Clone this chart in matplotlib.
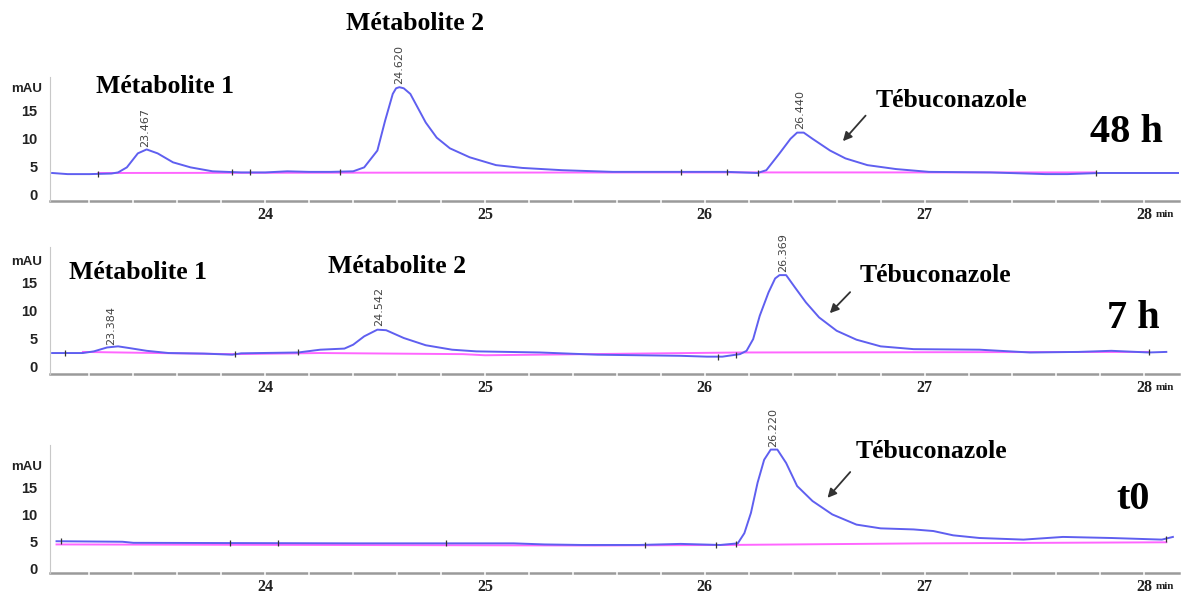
import numpy as np
import matplotlib
matplotlib.use('Agg')
import matplotlib.pyplot as plt

# retention time (min) and absorbance (mAU)
t_48h = [23.03, 23.1, 23.2, 23.3, 23.33, 23.37, 23.42, 23.46, 23.51, 23.58, 23.66, 23.76,
         23.89, 24.0, 24.1, 24.2, 24.3, 24.4, 24.45, 24.51, 24.545, 24.58, 24.595, 24.61,
         24.63, 24.66, 24.73, 24.78, 24.84, 24.93, 25.05, 25.17, 25.35, 25.58, 25.9, 26.1,
         26.24, 26.28, 26.34, 26.39, 26.42, 26.45, 26.49, 26.57, 26.64, 26.74, 26.87, 27.02,
         27.3, 27.55, 27.65, 27.8, 28.0, 28.16]
y_48h = [3.9, 3.7, 3.7, 3.8, 4.0, 4.9, 7.4, 8.1, 7.4, 5.8, 4.9, 4.2,
         4.0, 4.0, 4.2, 4.1, 4.1, 4.2, 4.9, 7.9, 13.2, 18.0, 19.0, 19.2,
         19.0, 18.0, 12.9, 10.2, 8.3, 6.7, 5.3, 4.8, 4.4, 4.1, 4.1, 4.1,
         3.9, 4.4, 7.4, 10.0, 11.1, 11.1, 10.0, 7.9, 6.5, 5.3, 4.6, 4.1,
         4.0, 3.7, 3.7, 3.9, 3.9, 3.9]

t_7h = [23.03, 23.17, 23.22, 23.28, 23.33, 23.38, 23.46, 23.56, 23.72, 23.85, 23.89, 24.15,
        24.25, 24.36, 24.40, 24.45, 24.51, 24.55, 24.63, 24.73, 24.85, 24.96, 25.25, 25.51,
        25.89, 26.01, 26.08, 26.16, 26.19, 26.22, 26.25, 26.29, 26.32, 26.34, 26.37, 26.41,
        26.46, 26.52, 26.60, 26.69, 26.80, 26.95, 27.25, 27.48, 27.70, 27.85, 28.02, 28.10]
y_7h = [2.4, 2.4, 2.7, 3.4, 3.6, 3.3, 2.8, 2.4, 2.3, 2.1, 2.35, 2.5,
        3.0, 3.2, 3.9, 5.4, 6.6, 6.5, 5.1, 3.8, 3.0, 2.7, 2.5, 2.1,
        1.9, 1.75, 1.75, 2.2, 2.8, 4.9, 9.1, 13.3, 15.8, 16.4, 16.4, 14.2,
        11.5, 8.8, 6.4, 4.8, 3.6, 3.1, 3.0, 2.5, 2.6, 2.8, 2.5, 2.6]

t_t0 = [23.05, 23.35, 23.4, 24.41, 25.13, 25.27, 25.44, 25.7, 25.89, 26.07, 26.15, 26.18,
        26.21, 26.24, 26.27, 26.30, 26.33, 26.37, 26.42, 26.49, 26.58, 26.69, 26.80, 26.95,
        27.04, 27.13, 27.25, 27.45, 27.63, 27.85, 28.08, 28.13]
y_t0 = [5.0, 4.9, 4.7, 4.6, 4.6, 4.4, 4.3, 4.3, 4.5, 4.3, 4.6, 6.5,
        10.3, 15.9, 20.2, 22.1, 22.1, 19.6, 15.3, 12.5, 10.0, 8.1, 7.4, 7.2,
        6.9, 6.1, 5.6, 5.3, 5.8, 5.6, 5.3, 5.8]

# integration baselines (magenta)
bt_48h = [23.24, 24.34, 25.9, 27.78]
by_48h = [3.9, 3.95, 4.0, 4.0]
bt_7h = [23.17, 23.85, 24.25, 24.9, 25.0, 26.16, 28.02]
by_7h = [2.6, 2.2, 2.4, 2.2, 2.0, 2.5, 2.6]
bt_t0 = [23.05, 25.5, 26.1, 27.0, 28.1]
by_t0 = [4.4, 4.2, 4.3, 4.6, 4.8]

# integration event ticks
ev_48h = [23.24, 23.85, 23.93, 24.34, 25.89, 26.1, 26.24, 27.78]
ev_7h = [23.09, 23.86, 24.15, 26.06, 26.14, 28.02]
ev_t0 = [23.07, 23.84, 24.06, 24.82, 25.73, 26.05, 26.14, 28.1]

# peak retention time labels: (label, position, height)
pk_48h = [('23.467', 23.455, 8.6), ('24.620', 24.61, 19.8), ('26.440', 26.435, 11.7)]
pk_7h = [('23.384', 23.30, 3.9), ('24.542', 24.52, 7.2), ('26.369', 26.355, 17.0)]
pk_t0 = [('26.220', 26.31, 22.6)]

x_ticks = [24, 25, 26, 27, 28]
y_ticks = [0, 5, 10, 15]

blue = '#5f5ff0'
pink = '#ff66ff'
serif = 'Liberation Serif'

fig = plt.figure(figsize=(11.89, 5.93), dpi=100)
boxes = [[0.042, 0.661, 0.95, 0.209],
         [0.042, 0.369, 0.95, 0.214],
         [0.042, 0.034, 0.95, 0.216]]
ylims = [(-1.1, 21), (-1.4, 21.4), (-0.9, 23)]
panels = [(t_48h, y_48h, bt_48h, by_48h, ev_48h, pk_48h),
          (t_7h, y_7h, bt_7h, by_7h, ev_7h, pk_7h),
          (t_t0, y_t0, bt_t0, by_t0, ev_t0, pk_t0)]

axes = []
for box, yl, (t, y, bt, by, ev, pk) in zip(boxes, ylims, panels):
    ax = fig.add_axes(box)
    ax.plot(bt, by, color=pink, lw=1.4, zorder=2)
    ax.plot(t, y, color=blue, lw=1.4, zorder=3)
    ax.plot(ev, np.interp(ev, t, y), ls='none', marker='|', ms=5, color='#333333', mew=0.9, zorder=4)
    for lab, px, py in pk:
        ax.text(px, py, lab, rotation=90, ha='center', va='bottom', fontsize=8, color='#444444')
    ax.set_xlim(23.02, 28.16)
    ax.set_ylim(*yl)
    for s in ['top', 'right']:
        ax.spines[s].set_visible(False)
    ax.spines['left'].set_color('#c8c8c8')
    ax.spines['bottom'].set_color('#9a9a9a')
    ax.spines['bottom'].set_linewidth(1.8)
    ax.spines['bottom'].set_zorder(1)
    ax.set_xticks(x_ticks)
    ax.set_xticklabels(['24', '25', '26', '27', '28'], fontfamily=serif, fontweight='bold', fontsize=11.5)
    ax.set_xticks(np.arange(23.2, 28.1, 0.2), minor=True)
    ax.tick_params(axis='x', which='both', direction='inout', length=5, width=1.1, color='white',
                   labelcolor='#222222', pad=2)
    ax.set_yticks(y_ticks)
    ax.set_yticklabels([str(v) for v in y_ticks], fontfamily='Liberation Sans', fontweight='bold', fontsize=10.5)
    ax.tick_params(axis='y', length=0, pad=9, labelcolor='#222222')
    ax.text(-0.007, 18.8, 'mAU', transform=ax.get_yaxis_transform(), ha='right', va='center',
            fontsize=9.5, fontweight='bold', family='Liberation Sans', color='#222222')
    ax.annotate('min', xy=(28, 0), xycoords=('data', 'axes fraction'), xytext=(8.5, -11.5),
                textcoords='offset points', fontsize=8, fontweight='bold', family=serif,
                va='baseline', ha='left', color='#222222')
    axes.append(ax)

label_kw = dict(fontfamily=serif, fontweight='bold', fontsize=18.5, ha='center', va='center')
big_kw = dict(fontfamily=serif, fontweight='bold', fontsize=29, ha='center', va='center')
arrow_kw = dict(arrowstyle='-|>', color='#333333', lw=1.3, mutation_scale=13)
ax1, ax2, ax3 = axes

ax1.text(23.545, 19.4, 'Métabolite 1', **label_kw)
ax1.text(24.68, 30.5, 'Métabolite 2', **label_kw)
ax1.text(27.12, 16.8, 'Tébuconazole', **label_kw)
ax1.annotate('', xy=(26.62, 9.2), xytext=(26.74, 14.5), arrowprops=arrow_kw)
ax1.text(27.92, 11.1, '48 h', **big_kw)

ax2.text(23.42, 16.8, 'Métabolite 1', **label_kw)
ax2.text(24.6, 18.0, 'Métabolite 2', **label_kw)
ax2.text(27.05, 16.4, 'Tébuconazole', **label_kw)
ax2.annotate('', xy=(26.56, 9.2), xytext=(26.67, 13.7), arrowprops=arrow_kw)
ax2.text(27.95, 8.6, '7 h', **big_kw)

ax3.text(27.03, 21.7, 'Tébuconazole', **label_kw)
ax3.annotate('', xy=(26.55, 12.7), xytext=(26.67, 18.3), arrowprops=arrow_kw)
ax3.text(27.95, 12.7, 't0', **big_kw)

fig.savefig('out.png', dpi=100)
